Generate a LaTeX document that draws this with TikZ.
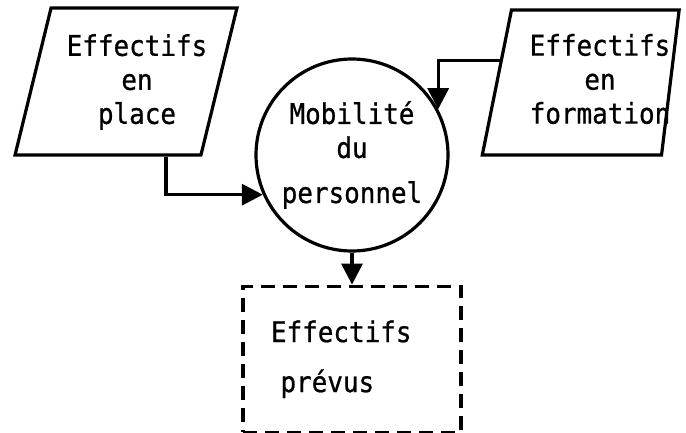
\documentclass[tikz,border=0pt]{standalone}
\usepackage{fontspec}
\setmonofont[FakeStretch=0.91, FakeBold=0.8]{DejaVu Sans Mono}
\usepackage{tikz}
\usetikzlibrary{positioning,shapes.geometric,arrows.meta,calc}

\begin{document}
\begin{tikzpicture}[x=1pt, y=1pt,
                    >={Triangle[length=21pt,width=21pt]},
                    every node/.style={font=\ttfamily\fontsize{28.5}{34}\selectfont, align=center},
                    every path/.style={line width=3.2pt},
                    stock/.style={draw, trapezium, trapezium stretches=true, inner sep=4pt},
                    proc/.style={draw, circle, minimum size=192pt, inner sep=0pt},
                    planbox/.style={draw, dash pattern=on 14pt off 8pt, minimum width=218pt,
                                    minimum height=146pt, text width=162pt, align=left}]
\useasboundingbox (0,0) rectangle (686,-432);
% inputs
\node[stock, trapezium left angle=76.5, trapezium right angle=103.5,
      minimum width=222pt, minimum height=147pt] (place) at (126,-81.5) {};
\node (placetxt) at (137,-82) {Effectifs\\en\\place};
\node[stock, trapezium left angle=79, trapezium right angle=96.7,
      minimum width=197pt, minimum height=145pt] (form) at (586.5,-82.5) {};
\node (formtxt) at (600,-79) {Effectifs\\en\\formation};
% process
\node[proc] (mob) at (352,-155) {Mobilité\\du\\[11pt]personnel};
% result
\node[planbox, below=32pt of mob] (prev) {Effectifs\\[16pt]~prévus};
\draw[->] ([xshift=40pt]place.south) |- (mob.204);
\draw[->] ($(form.bottom left corner)!0.65!(form.top left corner)$) -| (mob.28);
\draw[->] (mob) -- (prev);
\end{tikzpicture}
\end{document}
